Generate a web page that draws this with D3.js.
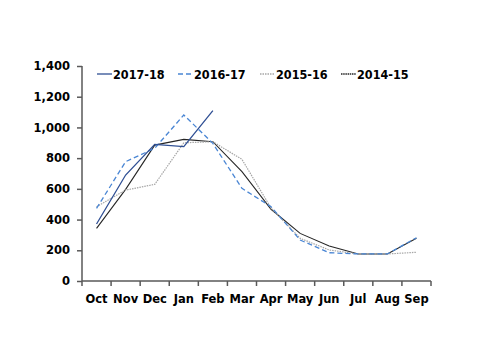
<!DOCTYPE html>
<html>
<head>
<meta charset="utf-8">
<script src="https://cdn.jsdelivr.net/npm/d3@7"></script>
<style>
  body { margin: 0; background: #fff; }
  text { font-family: "DejaVu Sans", sans-serif; font-weight: bold; font-size: 11.5px; fill: #000; }
  .legend text { font-family: "DejaVu Sans Condensed", "DejaVu Sans", sans-serif; font-size: 12.5px; }
</style>
</head>
<body>
<div id="chart"></div>
<script>
// Data
const months = ["Oct", "Nov", "Dec", "Jan", "Feb", "Mar", "Apr", "May", "Jun", "Jul", "Aug", "Sep"];
const yTicks = [0, 200, 400, 600, 800, 1000, 1200, 1400];
const s2017 = [371, 690, 890, 875, 1109];
const s2016 = [473, 777, 864, 1081, 896, 603, 484, 267, 184, 176, 176, 282];
const s2015 = [484, 592, 629, 900, 907, 792, 475, 278, 202, 176, 176, 187];
const s2014 = [343, 597, 885, 922, 907, 712, 467, 310, 228, 176, 176, 278];

const series = [
  { name: "2017-18", values: s2017, color: "#2f4f94", dash: null, w: 1.3 },
  { name: "2016-17", values: s2016, color: "#4a86d4", dash: "5,3", w: 1.3 },
  { name: "2015-16", values: s2015, color: "#a6a6a6", dash: "1.5,1", w: 1.2 },
  { name: "2014-15", values: s2014, color: "#262626", dash: null, w: 1.1 }
];

function createChart() {
  const margin = { top: 66, right: 69, bottom: 73, left: 82 };
  const width = 500 - margin.left - margin.right;
  const height = 354 - margin.top - margin.bottom;

  const svg = d3.select("#chart").append("svg")
    .attr("width", 500)
    .attr("height", 354);

  const g = svg.append("g")
    .attr("transform", `translate(${margin.left},${margin.top})`);

  const x = d3.scaleBand().domain(months).range([0, width]);
  const y = d3.scaleLinear().domain([0, 1400]).range([height, 0]);

  // y-axel
  const yAxis = g.append("g")
    .call(d3.axisLeft(y).tickValues(yTicks).tickSize(5).tickPadding(7).tickFormat(d3.format(",")));
  yAxis.selectAll("path, line").attr("stroke", "#595959").attr("stroke-width", 1.5);
  yAxis.select("path").attr("d", `M0,${height}V0`);

  // x-axel
  const xAxis = g.append("g")
    .attr("transform", `translate(0,${height})`)
    .call(d3.axisBottom(x).tickSize(0).tickPadding(14));
  xAxis.selectAll("path").attr("stroke", "#595959").attr("stroke-width", 1.5).attr("d", `M0,0H${width}`);
  xAxis.selectAll(".bound")
    .data(d3.range(months.length + 1))
    .enter().append("line")
    .attr("class", "bound")
    .attr("x1", i => i * x.step())
    .attr("x2", i => i * x.step())
    .attr("y1", 0).attr("y2", 5)
    .attr("stroke", "#595959").attr("stroke-width", 1.5);

  // linjer
  const line = d3.line()
    .x((d, i) => x(months[i]) + x.bandwidth() / 2)
    .y(d => y(d));

  series.slice().reverse().forEach(s => {
    g.append("path")
      .datum(s.values)
      .attr("fill", "none")
      .attr("stroke", s.color)
      .attr("stroke-width", s.w)
      .attr("stroke-dasharray", s.dash)
      .attr("d", line);
  });

  // legend
  const legendX = [97, 178, 260, 341];
  series.forEach((s, i) => {
    const lg = svg.append("g").attr("class", "legend").attr("transform", `translate(${legendX[i]},74)`);
    lg.append("line")
      .attr("x1", 0).attr("x2", 15).attr("y1", 0).attr("y2", 0)
      .attr("stroke", s.color)
      .attr("stroke-width", 1.3)
      .attr("stroke-dasharray", i === 3 ? "1.5,0.7" : s.dash);
    lg.append("text")
      .attr("x", 16).attr("y", 4.5)
      .text(s.name);
  });
}

createChart();
</script>
</body>
</html>
